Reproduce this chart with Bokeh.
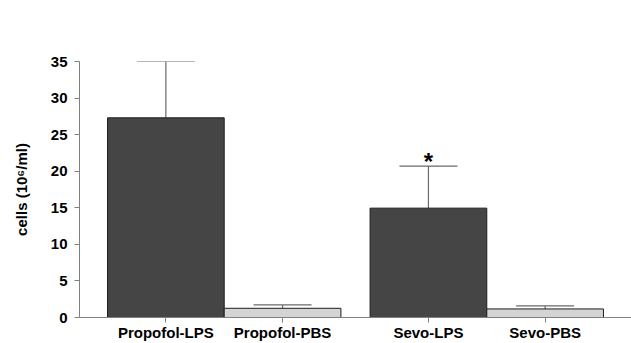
from bokeh.plotting import figure
from bokeh.models import (FactorRange, Range1d, SingleIntervalTicker, Whisker, TeeHead,
                          ColumnDataSource, Label)
from bokeh.embed import file_html
from bokeh.resources import INLINE
from bokeh.core.properties import value

title_text = "Total Cell Count in BALF"
y_label = "cells (10\u2076/ml)"
groups = ["Propofol", "Propofol", "Sevo", "Sevo"]
labels = ["Propofol-LPS", "Propofol-PBS", "Sevo-LPS", "Sevo-PBS"]
means = [27.3, 1.26, 14.95, 1.17]
errors_top = [35.0, 1.72, 20.7, 1.6]
fills = ["#454545", "#d4d4d4", "#454545", "#d4d4d4"]
star_label = "Sevo-LPS"
y_max = 35

FONT = "Liberation Sans"
x = list(zip(groups, labels))

src = ColumnDataSource(dict(x=x, mean=means, upper=errors_top, fill=fills))

p = figure(width=631, height=343, output_backend="svg", toolbar_location=None,
           x_range=FactorRange(*x, group_padding=0.25, range_padding=0.113),
           y_range=Range1d(0, y_max),
           min_border_left=79, min_border_right=0, min_border_top=61, min_border_bottom=22)
p.outline_line_color = None
p.xgrid.visible = False
p.ygrid.visible = False

p.vbar(x="x", top="mean", width=1.0, source=src, fill_color="fill",
       line_color="#1e1e1e", line_width=1)

w = Whisker(base="x", lower="mean", upper="upper", source=src, dimension="height",
            line_color="#6a6a6a", line_width=1.2,
            upper_head=TeeHead(size=58, line_color="#6a6a6a", line_width=1.2), lower_head=None)
p.add_layout(w)

si = labels.index(star_label)
p.text(x=[x[si]], y=[errors_top[si]], text=["*"], text_align="center", text_baseline="bottom",
       text_font=value(FONT), text_font_style="bold", text_font_size="24px", y_offset=9,
       text_color="black")

# title (screen units are relative to the plot frame, y measured upward from its bottom)
p.add_layout(Label(x=3, y=300, x_units="screen", y_units="screen", text=title_text,
                   text_align="left", text_baseline="middle", text_font=FONT,
                   text_font_size="16px", text_font_style="bold", text_color="black"))

# axes
p.yaxis.ticker = SingleIntervalTicker(interval=5)
p.yaxis.minor_tick_line_color = None
p.yaxis.major_tick_out = 5
p.yaxis.major_tick_in = 0
p.yaxis.axis_line_color = "#808080"
p.yaxis.major_tick_line_color = "#808080"
p.yaxis.major_label_text_font = FONT
p.yaxis.major_label_text_font_size = "15px"
p.yaxis.major_label_text_font_style = "bold"
p.yaxis.major_label_text_color = "black"
p.yaxis.major_label_standoff = 7
p.yaxis.axis_label = y_label
p.yaxis.axis_label_text_font = FONT
p.yaxis.axis_label_text_font_size = "15px"
p.yaxis.axis_label_text_font_style = "bold"
p.yaxis.axis_label_text_color = "black"
p.yaxis.axis_label_standoff = 18

p.xaxis.axis_line_color = "#808080"
p.xaxis.major_tick_line_color = "#808080"
p.xaxis.major_tick_out = 5
p.xaxis.major_tick_in = 0
p.xaxis.major_label_text_font = FONT
p.xaxis.major_label_text_font_size = "15px"
p.xaxis.major_label_text_font_style = "bold"
p.xaxis.major_label_text_color = "black"
p.xaxis.major_label_standoff = 1
p.xaxis.group_text_font_size = "0px"
p.xaxis.group_text_color = None
p.xaxis.separator_line_alpha = 0
p.xaxis.major_label_orientation = "horizontal"

open("out.html", "w").write(file_html(p, INLINE))
